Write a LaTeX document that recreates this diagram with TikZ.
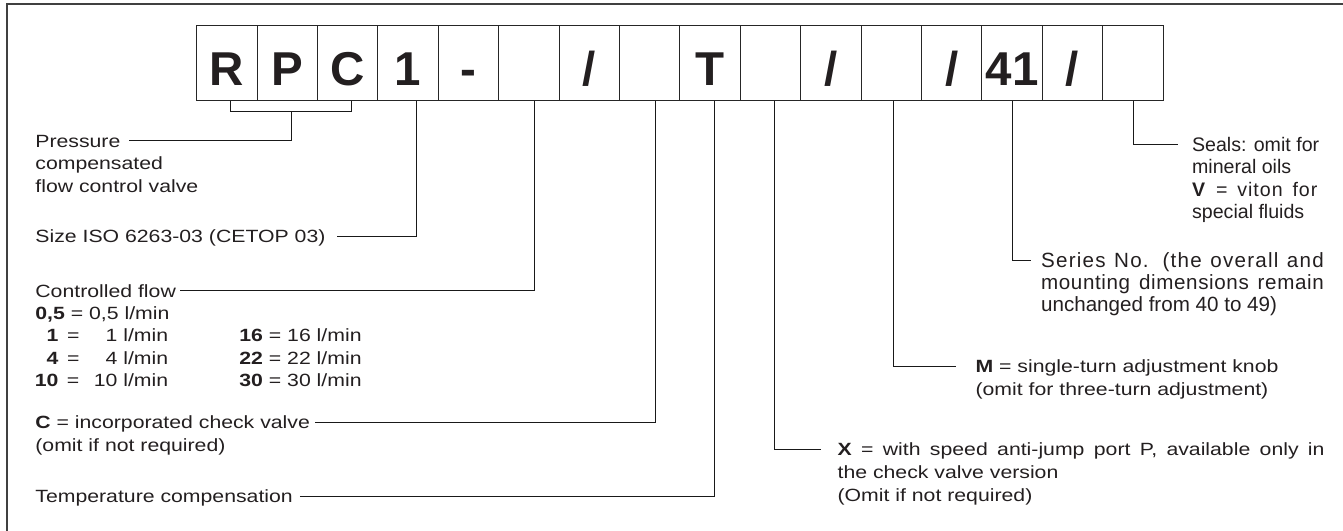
\documentclass[tikz,border=0pt]{standalone}
\usepackage{fontspec}
\setmainfont{Liberation Sans}
\newfontfamily\widefont{Liberation Sans}[FakeStretch=1.2]
\usetikzlibrary{calc}
\definecolor{ink}{RGB}{35,31,32}
\newcommand\flowrow[2]{\makebox[11.5pt][r]{\textbf{#1}}\hspace{4.3pt}=\makebox[44.4pt][r]{#2 l/min}}
\newcommand\spread[3]{{\addfontfeature{LetterSpace=#2}\makebox[#1][s]{#3}}}
\tikzset{
  frame/.style={line width=0.8pt, draw=black!75},
  cell/.style={draw=black!85, line width=0.5pt, minimum width=30.2pt, minimum height=37.15pt,
    inner sep=0pt, text height=22.85pt, text depth=0pt, text=ink,
    font=\fontsize{23.75pt}{28pt}\selectfont\bfseries},
  txt/.style={anchor=west, inner sep=0pt, text height=6.35pt, text depth=0pt, text=ink,
    font=\widefont\fontsize{8.85pt}{11pt}\selectfont},
  seal/.style={txt, text height=7pt, font=\fontsize{9.8pt}{12pt}\selectfont},
  ser/.style={txt, text height=7.3pt, font=\fontsize{10.3pt}{12pt}\selectfont},
  lead/.style={line width=0.5pt, draw=black!90},
}

\begin{document}
\begin{tikzpicture}[x=0.5pt,y=-0.5pt]
		%%%%% START %%%%%
		\useasboundingbox (0,0) rectangle (1343,530);
		\draw[frame] (7,540) -- (7,4) -- (1350,4);
		
		% code boxes
		\foreach \code [count=\i] in {R,P,C,1,-,{},{/},{},T,{},{/},{},{/},41,{/},{}}
			\node[cell] (c\i) at ({196.7+(\i-0.5)*60.4},62.85) {\code};
		
		% bracket under R P C
		\draw[lead] ($(c1.south)+(3.8,0)$) -- ++(0,10.7) -| ($(c3.south)+(3.3,0)$);
		\coordinate (brk) at (291.3,110.7);
		
		% left column
		\node[txt] (lpres) at (35,140.7) {Pressure};
		\node[txt] (lpres2) at (35,163.2) {compensated};
		\node[txt] (lpres3) at (35,185.7) {flow control valve};
		
		\node[txt] (lsize) at (35,236.5) {Size ISO 6263-03 (CETOP 03)};
		
		\node[txt] (lflow) at (35,290.8) {Controlled flow};
		\node[txt] (lf05) at (35,313.2) {\textbf{0,5} = 0,5 l/min};
		\node[txt] (lf1) at (35,335.6) {\flowrow{1}{1}};
		\node[txt] (lf4) at (35,358) {\flowrow{4}{4}};
		\node[txt] (lf10) at (35,380.4) {\flowrow{10}{10}};
		\node[txt] (lf16) at (239,335.6) {\textbf{16} = 16 l/min};
		\node[txt] (lf22) at (239,358) {\textbf{22} = 22 l/min};
		\node[txt] (lf30) at (239,380.4) {\textbf{30} = 30 l/min};
		
		\node[txt] (lcheck) at (35,422.5) {\textbf{C} = incorporated check valve};
		\node[txt] (lcheck2) at (35,445) {(omit if not required)};
		
		\node[txt] (ltemp) at (35,496) {Temperature compensation};
		
		% right side
		\node[seal] (rseal) at (1191.7,144.5) {Seals: omit for};
		\node[seal] (rseal2) at (1191.7,166.9) {mineral oils};
		\node[seal] (rseal3) at (1191.7,189.3) {\spread{62.65pt}{5}{\textbf{V} = viton for}};
		\node[seal] (rseal4) at (1191.7,211.7) {special fluids};
		
		\node[ser] (rser) at (1040.7,260.5) {\spread{141.35pt}{6}{Series No. (the overall and}};
		\node[ser] (rser2) at (1040.7,282.2) {\spread{141.35pt}{3}{mounting dimensions remain}};
		\node[ser] (rser3) at (1040.7,303.9) {unchanged from 40 to 49)};
		
		\node[txt] (rm) at (975.2,366.5) {\textbf{M} = single-turn adjustment knob};
		\node[txt] (rm2) at (975.2,389.5) {(omit for three-turn adjustment)};
		
		\node[txt] (rx) at (837.2,449.5) {\makebox[243.5pt][s]{\textbf{X} = with speed anti-jump port P, available only in}};
		\node[txt] (rx2) at (837.2,472.5) {the check valve version};
		\node[txt] (rx3) at (837.2,495.5) {(Omit if not required)};
		
		% leaders
		\draw[lead] ([xshift=4.2pt]lpres.east) -| (brk);
		\draw[lead] ([xshift=5.8pt]lsize.east) -| ($(c4.south)+(8.8,0)$);
		\draw[lead] ([xshift=2pt]lflow.east) -| ($(c6.south)+(5.1,0)$);
		\draw[lead] ([xshift=2.5pt]lcheck.east) -| ($(c8.south)+(6,0)$);
		\draw[lead] ([xshift=3.3pt]ltemp.east) -| ($(c9.south)+(4.2,0)$);
		\draw[lead] ($(c10.south)+(3.5,0)$) |- ([xshift=-8pt]rx.west);
		\draw[lead] ($(c12.south)+(2,0)$) |- ([xshift=-9.4pt]rm.west);
		\draw[lead] ($(c14.south)+(0.2,0)$) |- ([xshift=-4.8pt]rser.west);
		\draw[lead] ($(c16.south)+(0.3,0)$) |- ([xshift=-6.7pt]rseal.west);
		
		%%%%% END %%%%%
\end{tikzpicture}
\end{document}
